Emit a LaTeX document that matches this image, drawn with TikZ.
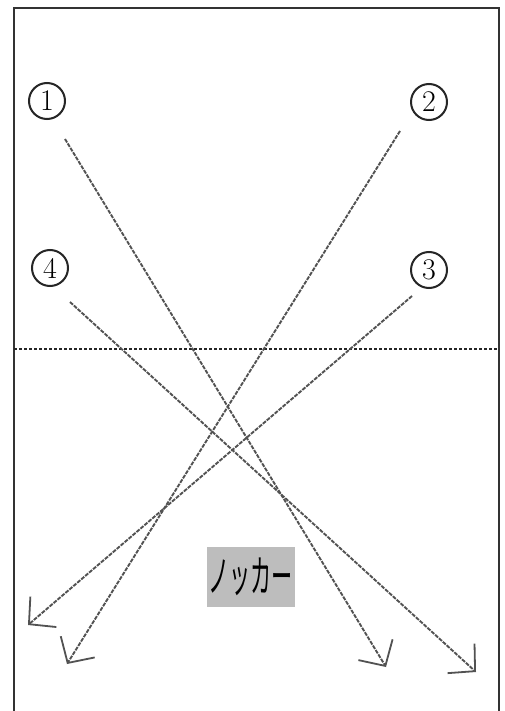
\documentclass[tikz,border=0pt]{standalone}
\usepackage{fontspec}
\usepackage{graphicx}
\newfontfamily\jpfont{Noto Sans CJK JP}
\usetikzlibrary{arrows.meta}
\definecolor{framegray}{gray}{0.2}
\definecolor{pathgray}{gray}{0.32}
\definecolor{boxgray}{gray}{0.74}
\tikzset{
  numlabel/.style={circle,draw=black!85,line width=2pt,minimum size=36pt,inner sep=0pt,
    font=\fontsize{30}{30}\selectfont},
  flight/.style={draw=pathgray,line width=1.9pt,dash pattern=on 4pt off 1.2pt,
    -{Straight Barb[length=19pt,width=40pt,line width=1.8pt]}},
  namebox/.style={fill=boxgray,minimum width=88pt,minimum height=60pt,inner sep=0pt}
}
\begin{document}
\begin{tikzpicture}[x=1pt,y=-1pt]
\useasboundingbox (0,0) rectangle (505,711);
\fill[white] (0,0) rectangle (505,711);
% frame
\draw[framegray,line width=2.6pt] (14,711) -- (14,8) -- (499,8) -- (499,711);
% net / centre line
\draw[black!85,line width=1.8pt,dash pattern=on 3pt off 2pt] (14,349) -- (499,349);
% labels
\node[numlabel] (n1) at (47,101) {1};
\node[numlabel] (n2) at (429,102) {2};
\node[numlabel] (n3) at (429,270) {3};
\node[numlabel] (n4) at (50,268) {4};
% start and end points
\coordinate (s1) at (65,139);
\coordinate (e1) at (386,667);
\coordinate (s2) at (400,131);
\coordinate (e2) at (67,664);
\coordinate (s3) at (412,296);
\coordinate (e3) at (28,625);
\coordinate (s4) at (70,302);
\coordinate (e4) at (476,672);
\draw[flight] (s1) -- (e1);
\draw[flight] (s2) -- (e2);
\draw[flight] (s3) -- (e3);
\draw[flight] (s4) -- (e4);
% knocker box
\node[namebox] (knocker) at (251,577) {\scalebox{0.48}[1]{\jpfont\fontsize{44}{44}\selectfont ノッカー}};
\end{tikzpicture}
\end{document}
